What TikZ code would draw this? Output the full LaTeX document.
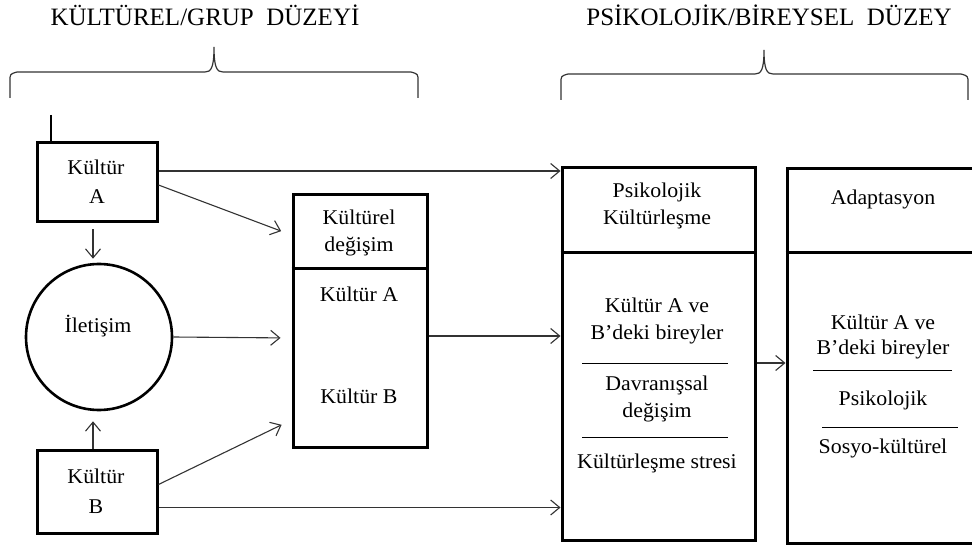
\documentclass[tikz,border=0pt]{standalone}
\usepackage{fontspec}
\setmainfont{Liberation Serif}
\newfontfamily\boxfont[FakeStretch=1.04]{Liberation Serif}
\newfontfamily\headfont{Liberation Serif}
\usetikzlibrary{arrows.meta}
\begin{document}
\begin{tikzpicture}[x=1pt,y=-1pt,
  box/.style={draw,line width=3pt,inner sep=0pt},
  thickline/.style={line width=3pt},
  thinline/.style={line width=1pt},
  bracepath/.style={line width=1.2pt,draw=black!80},
  arr/.style={line width=1.1pt,draw=black!80,-{Straight Barb[length=9pt,width=15pt,line width=1.1pt]}},
  txt/.style={font=\boxfont\fontsize{21}{25}\selectfont,anchor=base,inner sep=0pt},
  head/.style={font=\headfont\fontsize{25}{29}\selectfont,anchor=base,inner sep=0pt}]
\useasboundingbox (0,0) rectangle (972,545);

% headers
\node[head] (h1) at (205,26) {KÜLTÜREL/GRUP\ \ DÜZEYİ};
\node[head] (h2) at (769,26) {PSİKOLOJİK/BİREYSEL\ \ DÜZEY};

% braces
\draw[bracepath] (10,98) -- (10,81) .. controls (10,74) .. (17,72) -- (205,72)
  .. controls (211,72) and (214,68) .. (214,47)
  .. controls (214,68) and (217,72) .. (223,72) -- (411,72)
  .. controls (418,74) .. (418,81) -- (418,98);
\draw[bracepath] (561,100) -- (561,83) .. controls (561,76) .. (568,74) -- (755,74)
  .. controls (761,74) and (764,70) .. (764,50)
  .. controls (764,70) and (767,74) .. (773,74) -- (961,74)
  .. controls (968,76) .. (968,83) -- (968,100);

% boxes
\node[box,minimum width=120pt,minimum height=79pt] (A) at (97,182.5) {};
\node[box,minimum width=120pt,minimum height=83pt] (B) at (97,491.5) {};
\node[draw,circle,line width=2.6pt,minimum size=146pt,inner sep=0pt] (C) at (99,337) {};
\node[box,minimum width=134pt,minimum height=252pt] (M) at (360,321) {};
\node[box,minimum width=193pt,minimum height=372pt] (P) at (658.5,354) {};
\node[box,minimum width=200pt,minimum height=374pt] (D) at (887,356) {};

% small tick above A
\coordinate (tick) at (51,115);
\draw[line width=2.4pt] (tick) -- (tick |- A.north);

% dividers
\coordinate (mdiv) at (0,269);
\coordinate (pdiv) at (0,253);
\draw[thickline] (M.west |- mdiv) -- (M.east |- mdiv);
\draw[thickline] (P.west |- pdiv) -- (P.east |- pdiv);
\draw[thickline] (D.west |- pdiv) -- (D.east |- pdiv);

% thin separator lines
\coordinate (p1l) at (582,363); \coordinate (p1r) at (728,363);
\coordinate (p2l) at (582,437); \coordinate (p2r) at (728,437);
\coordinate (d1l) at (813,370); \coordinate (d1r) at (952,370);
\coordinate (d2l) at (822,427); \coordinate (d2r) at (958,427);
\draw[thinline] (p1l) -- (p1r);
\draw[thinline] (p2l) -- (p2r);
\draw[thinline] (d1l) -- (d1r);
\draw[thinline] (d2l) -- (d2r);

% texts
\node[txt] (ta1) at (96,175) {Kültür};
\node[txt] (ta2) at (97,204) {A};
\node[txt] (tb1) at (96,483) {Kültür};
\node[txt] (tb2) at (96,513) {B};
\node[txt] (tc) at (98,333) {İletişim};
\node[txt] (tm1) at (359,225) {Kültürel};
\node[txt] (tm2) at (359,252) {değişim};
\node[txt] (tm3) at (359,302) {Kültür A};
\node[txt] (tm4) at (359,403) {Kültür B};
\node[txt] (tp1) at (657,198) {Psikolojik};
\node[txt] (tp2) at (657,225) {Kültürleşme};
\node[txt] (tp3) at (657,313) {Kültür A ve};
\node[txt] (tp4) at (657,340) {B’deki bireyler};
\node[txt] (tp5) at (657,390) {Davranışsal};
\node[txt] (tp6) at (657,417) {değişim};
\node[txt] (tp7) at (657,468) {Kültürleşme stresi};
\node[txt] (td1) at (883,205) {Adaptasyon};
\node[txt] (td2) at (883,330) {Kültür A ve};
\node[txt] (td3) at (883,355) {B’deki bireyler};
\node[txt] (td4) at (883,405) {Psikolojik};
\node[txt] (td5) at (883,453) {Sosyo-kültürel};

% connectors
\draw[arr] ([yshift=11.5pt]A.east) -- ([yshift=11.5pt]A.east -| P.west);
\draw[arr,shorten >=11pt] ([yshift=-2.5pt]A.east) -- ([yshift=86pt]M.west);
\draw[arr,shorten >=11pt] (C.east) -- ([yshift=-17pt]M.west);
\draw[arr,shorten >=11pt] ([yshift=7pt]B.east) -- ([yshift=-99pt]M.west);
\draw[arr] ([yshift=-16pt]B.east) -- ([yshift=-16pt]B.east -| P.west);
\draw[arr] ([yshift=-15pt]M.east) -- ([yshift=-15pt]M.east -| P.west);
\draw[arr] ([yshift=-9pt]P.east) -- ([yshift=-9pt]P.east -| D.west);
\draw[arr,shorten <=6pt,shorten >=4pt] ([xshift=-4pt]A.south) -- ([xshift=-4pt]A.south |- C.north);
\draw[arr,shorten >=10pt] ([xshift=-4pt]B.north) -- ([xshift=-4pt]B.north |- C.south);
\end{tikzpicture}
\end{document}
